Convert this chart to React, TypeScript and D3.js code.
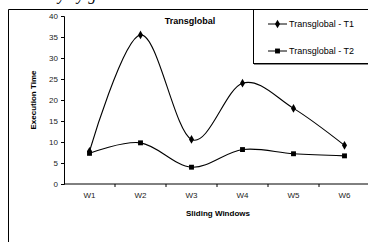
import React, { useEffect, useRef } from 'react';
import * as d3 from 'd3';

const categories = ['W1', 'W2', 'W3', 'W4', 'W5', 'W6'];
const t1Values = [7.8, 35.5, 10.6, 24.0, 18.0, 9.2];
const t2Values = [7.3, 9.8, 4.0, 8.2, 7.2, 6.7];
const yTicks = [0, 5, 10, 15, 20, 25, 30, 35, 40];
const seriesNames = ['Transglobal - T1', 'Transglobal - T2'];

const W = 368;
const H = 242;

const App = () => {
  const ref = useRef<SVGSVGElement>(null);

  useEffect(() => {
    const svg = d3.select(ref.current);
    svg.selectAll('*').remove();
    const font = 'Liberation Sans, Arial, sans-serif';

    // caption of the page above, cut off at the top
    svg.append('text')
      .attr('x', 58).attr('y', 0)
      .style('font-family', 'Liberation Serif, Times New Roman, serif')
      .style('font-style', 'italic')
      .style('font-size', '16px')
      .attr('xml:space', 'preserve')
      .text('y   y g');

    // outer frame
    svg.append('path')
      .attr('d', `M8.5,${H} V9.5 H${W}`)
      .attr('fill', 'none').attr('stroke', '#000').attr('stroke-width', 1);

    const margin = { left: 64, top: 16, bottom: 184 };
    const x = d3.scaleBand().domain(categories).range([margin.left, margin.left + 51 * 6]);
    const y = d3.scaleLinear().domain([0, 40]).range([margin.bottom, margin.top]);

    // y axis
    const yAxis = svg.append('g')
      .attr('transform', `translate(${margin.left},0)`)
      .call(d3.axisLeft(y).tickValues(yTicks).tickSize(3).tickPadding(3));
    yAxis.select('.domain').attr('stroke', '#000');
    yAxis.selectAll('.tick line').attr('stroke', '#000');
    yAxis.selectAll('text').style('font-family', font).style('font-size', '8px').attr('fill', '#222');

    // x axis with ticks between categories
    const xg = svg.append('g').attr('transform', `translate(0,${margin.bottom})`);
    xg.append('line')
      .attr('x1', margin.left).attr('x2', W)
      .attr('stroke', '#000');
    xg.selectAll('line.tk')
      .data(categories.slice(1))
      .enter().append('line')
      .attr('class', 'tk')
      .attr('x1', d => x(d)!).attr('x2', d => x(d)!)
      .attr('y1', 0).attr('y2', 3)
      .attr('stroke', '#000');
    xg.selectAll('text')
      .data(categories)
      .enter().append('text')
      .attr('x', d => x(d)! + x.bandwidth() / 2)
      .attr('y', 14)
      .attr('text-anchor', 'middle')
      .style('font-family', font).style('font-size', '8px')
      .attr('fill', '#222')
      .text(d => d);

    // axis titles
    svg.append('text')
      .attr('x', 218).attr('y', 216)
      .attr('text-anchor', 'middle')
      .style('font-family', font).style('font-size', '8px').style('font-weight', 'bold')
      .text('Sliding Windows');
    svg.append('text')
      .attr('transform', `translate(36,${(margin.top + margin.bottom) / 2}) rotate(-90)`)
      .attr('text-anchor', 'middle')
      .style('font-family', font).style('font-size', '8px').style('font-weight', 'bold')
      .text('Execution Time');

    // chart title
    svg.append('text')
      .attr('x', 190).attr('y', 24)
      .attr('text-anchor', 'middle')
      .style('font-family', font).style('font-size', '9px').style('font-weight', 'bold')
      .text('Transglobal');

    const line = d3.line<number>()
      .x((_, i) => x(categories[i])! + x.bandwidth() / 2)
      .y(d => y(d))
      .curve(d3.curveCardinal.tension(0));

    const diamond = d3.symbol().type(d3.symbolDiamond).size(22);
    const square = d3.symbol().type(d3.symbolSquare).size(24);

    [t1Values, t2Values].forEach((vals, si) => {
      svg.append('path')
        .datum(vals)
        .attr('d', line)
        .attr('fill', 'none')
        .attr('stroke', '#000')
        .attr('stroke-width', 1.1);
      svg.selectAll(`path.m${si}`)
        .data(vals)
        .enter().append('path')
        .attr('class', `m${si}`)
        .attr('transform', (d, i) => `translate(${x(categories[i])! + x.bandwidth() / 2},${y(d)})`)
        .attr('d', si === 0 ? diamond() : square())
        .attr('fill', '#000');
    });

    // legend
    const lg = svg.append('g');
    lg.append('line')
      .attr('x1', 254).attr('x2', W).attr('y1', 64.5).attr('y2', 64.5)
      .attr('stroke', '#888');
    lg.append('rect')
      .attr('x', 253.5).attr('y', 9.5).attr('width', W).attr('height', 54)
      .attr('fill', '#fff').attr('stroke', '#000');
    seriesNames.forEach((name, i) => {
      const ly = 24 + i * 27;
      lg.append('line')
        .attr('x1', 268).attr('x2', 287).attr('y1', ly).attr('y2', ly)
        .attr('stroke', '#000');
      lg.append('path')
        .attr('transform', `translate(277.5,${ly})`)
        .attr('d', i === 0 ? diamond() : square())
        .attr('fill', '#000');
      lg.append('text')
        .attr('x', 289).attr('y', ly + 3)
        .style('font-family', font).style('font-size', '9px')
        .text(name);
    });
  }, []);

  return (
    <svg ref={ref} width={W} height={H}
      style={{ position: 'absolute', left: 0, top: 0, background: '#fff' }} />
  );
};

export default App;
